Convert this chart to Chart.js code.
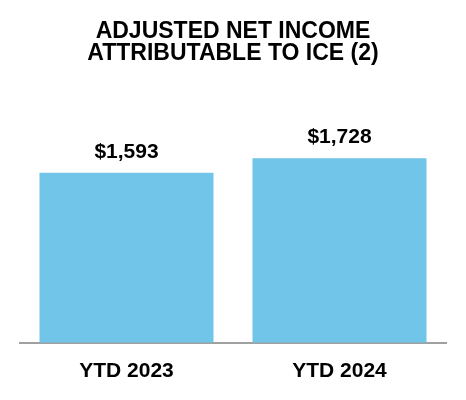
<!DOCTYPE html>
<html>
<head>
<meta charset="utf-8">
<script src="https://cdn.jsdelivr.net/npm/chart.js@4"></script>
<style>
  html, body { margin: 0; padding: 0; background: #fff; }
  #wrap { width: 466px; height: 400px; }
</style>
</head>
<body>
<div id="wrap"><canvas id="mainChart" width="466" height="400"></canvas></div>
<script>
const categories = ['YTD 2023', 'YTD 2024'];
const income = [1593, 1728];
const titleLines = ['ADJUSTED NET INCOME', 'ATTRIBUTABLE TO ICE (2)'];

const FONT = "'Liberation Sans', Arial, sans-serif";

// etiquetas de valor encima de cada barra
const valueLabels = {
    id: 'valueLabels',
    afterDatasetsDraw(chart) {
        const c = chart.ctx;
        const meta = chart.getDatasetMeta(0);
        c.save();
        c.font = 'bold 21px ' + FONT;
        c.fillStyle = '#000';
        c.textAlign = 'center';
        c.textBaseline = 'alphabetic';
        meta.data.forEach((bar, i) => {
            c.fillText('$' + income[i].toLocaleString('en-US'), bar.x, bar.y - 15);
        });
        c.restore();
    }
};

new Chart(document.getElementById('mainChart').getContext('2d'), {
    type: 'bar',
    data: {
        labels: categories,
        datasets: [{
            data: income,
            backgroundColor: '#71C5E8',
            borderWidth: 0,
            categoryPercentage: 1,
            barPercentage: 0.817
        }]
    },
    options: {
        responsive: false,
        animation: false,
        layout: { padding: { left: 20, right: 20, top: 0, bottom: 8 } },
        plugins: {
            legend: { display: false },
            tooltip: { enabled: false },
            title: {
                display: true,
                text: titleLines,
                color: '#000',
                font: { family: FONT, size: 23, weight: 'bold', lineHeight: 0.96 },
                padding: { top: 21, bottom: 64 }
            }
        },
        scales: {
            y: { display: false, min: 0, max: 2000 },
            x: {
                grid: { display: false },
                border: { display: true, color: '#a0a0a0', width: 2 },
                ticks: { color: '#000', padding: 8, font: { family: FONT, size: 21, weight: 'bold' } }
            }
        }
    },
    plugins: [valueLabels]
});
</script>
</body>
</html>
